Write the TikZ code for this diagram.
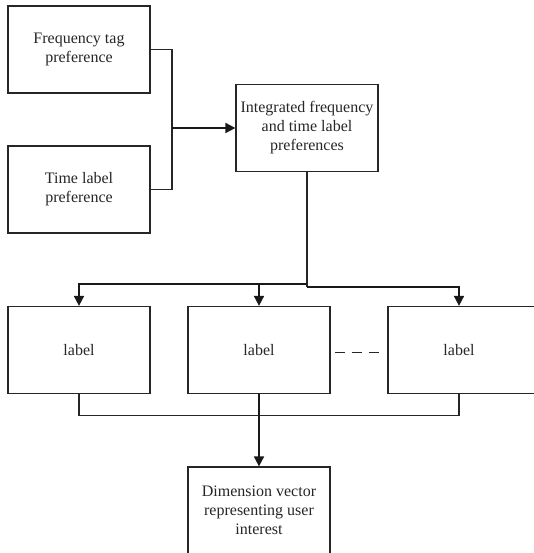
\documentclass[tikz,border=0pt]{standalone}
\usepackage{fontspec}
\setmainfont{Liberation Serif}
\usetikzlibrary{arrows.meta}
\begin{document}
\begin{tikzpicture}[x=1pt,y=-1pt,
  box/.style={draw=black!85,line width=1.2pt,minimum width=142pt,minimum height=87pt,inner sep=0pt,align=center,
    font=\fontsize{16}{19}\selectfont,text=black!85},
  txt/.style={inner sep=0pt,align=center,font=\fontsize{16}{19}\selectfont,text=black!85},
  link/.style={draw=black!85,line width=1.2pt},
  arr/.style={draw=black!90,line width=1.7pt,-{Triangle[length=10pt,width=10pt]}}]
\useasboundingbox (0,0) rectangle (534,553);
\clip (0,0) rectangle (534,553);
\node[box] (f) at (79,49.5) {Frequency tag\\preference};
\node[box] (t) at (79,189.5) {Time label\\preference};
\node[box] (i) at (307,128) {Integrated frequency\\and time label\\preferences};
\node[box] (a) at (79,350) {label};
\node[box] (b) at (259,350) {label};
\node[box,minimum width=157pt] (c) at (466.5,350) {};
\node[txt] (ct) at (459,350) {label};
\node[box] (d) at (259,510.5) {Dimension vector\\representing user\\interest};
\coordinate (j) at (172,128);
\coordinate (sp) at (307,287);
\draw[link] (f.east) -| (j) |- (t.east);
\draw[arr] (j) -- (i.west);
\draw[link,line width=1.7pt] (i.south) -- (sp);
\draw[arr] (307,284) -| (a.north);
\draw[arr] (307,284) -| (b.north);
\draw[arr] (sp) -| (c.north -| ct);
\draw[link] (a.south) -- ++(0,21.5) -| (c.south -| ct);
\draw[arr] (b.south) -- (d.north);
\draw[link,dash pattern=on 10pt off 7pt] (335,352.5) -- (379,352.5);
\end{tikzpicture}
\end{document}
